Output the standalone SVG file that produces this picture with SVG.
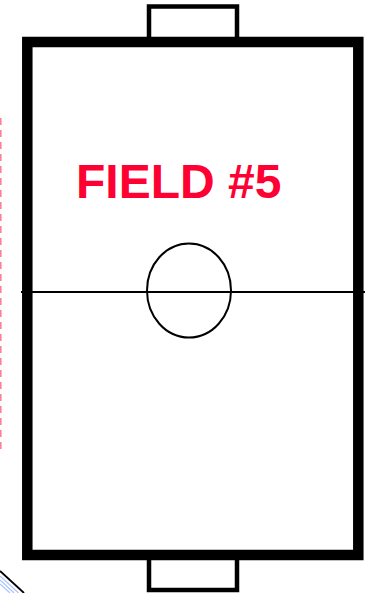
<svg xmlns="http://www.w3.org/2000/svg" width="370" height="593" viewBox="0 0 370 593">
<style>
.thick{fill:none;stroke:#000;stroke-width:10.5}
.goal{fill:#fff;stroke:#000;stroke-width:4.5}
.thin{fill:none;stroke:#000;stroke-width:2}
.label{font-family:"Liberation Sans",Arial,sans-serif;font-weight:bold;font-size:48px;fill:#FF0033}
</style>
<rect width="370" height="593" fill="#fff"/>
<g id="decor">
<line x1="0.8" y1="118" x2="0.8" y2="450" stroke="#FF8099" stroke-width="1.6" stroke-dasharray="7 5"/>
<line x1="0" y1="584" x2="10" y2="593" stroke="#aac4ff" stroke-width="1.2"/>
<line x1="0" y1="580" x2="14" y2="593" stroke="#aac4ff" stroke-width="1.2"/>
<line x1="0" y1="576" x2="18.5" y2="593" stroke="#aac4ff" stroke-width="1.2"/>
<line x1="0" y1="571" x2="24" y2="593" stroke="#000" stroke-width="1.8"/>
</g>
<g id="goal-top"><rect class="goal" x="149" y="6.5" width="88" height="36"/></g>
<g id="goal-bottom"><rect class="goal" x="149" y="555" width="88" height="35"/></g>
<g id="field"><rect class="thick" x="27.3" y="42" width="331" height="513"/></g>
<g id="center-circle"><ellipse class="thin" cx="189" cy="290.5" rx="42" ry="47"/></g>
<g id="connectors"><line class="thin" x1="21" y1="292" x2="365" y2="292"/></g>
<g id="title"><text class="label" x="76" y="198">FIELD #5</text></g>
</svg>
